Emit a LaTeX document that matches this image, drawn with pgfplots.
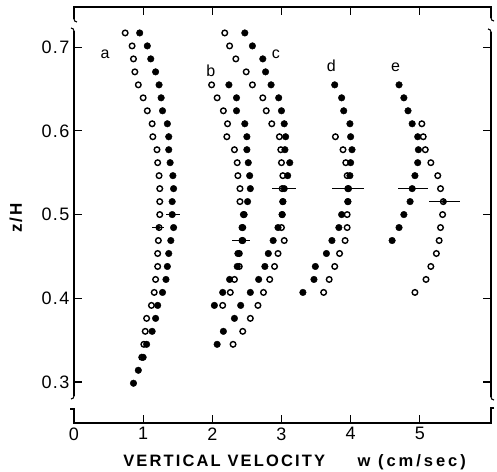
\documentclass[border=0pt]{standalone}
\usepackage{pgfplots}
\pgfplotsset{compat=1.18}
\usepackage{pgfplotstable}
\usepackage{fontspec}
\setmainfont{Liberation Sans}
\newfontfamily\labfont[LetterSpace=13]{Liberation Sans}
\newfontfamily\wfont[LetterSpace=18]{Liberation Sans}
\newfontfamily\tickfont[LetterSpace=8]{Liberation Sans}

% y levels: k1..k28 = 0.717 - 0.0155(k-1)
\pgfplotstableread{
x y
0.95 0.717
1.06 0.7015
1.11 0.686
1.18 0.6705
1.23 0.655
1.26 0.6395
1.28 0.624
1.35 0.6085
1.37 0.593
1.37 0.5775
1.39 0.562
1.43 0.5465
1.44 0.531
1.42 0.5155
1.42 0.500
1.44 0.4845
1.40 0.469
1.37 0.4535
1.35 0.438
1.33 0.4225
1.28 0.407
1.21 0.3915
1.18 0.376
1.13 0.3605
1.05 0.345
1.00 0.3295
0.93 0.314
0.86 0.2985
}\aFilled
\pgfplotstableread{
x y
0.74 0.717
0.84 0.7015
0.86 0.686
0.88 0.6705
0.93 0.655
1.00 0.6395
1.06 0.624
1.13 0.6085
1.14 0.593
1.20 0.5775
1.21 0.562
1.23 0.5465
1.24 0.531
1.24 0.5155
1.24 0.500
1.23 0.4845
1.22 0.469
1.21 0.4535
1.21 0.438
1.18 0.4225
1.16 0.407
1.12 0.3915
1.05 0.376
1.03 0.3605
1.01 0.345
0.98 0.3295
}\aOpen
\pgfplotstableread{
x y
2.24 0.655
2.35 0.6395
2.35 0.624
2.47 0.6085
2.50 0.593
2.50 0.5775
2.52 0.562
2.54 0.5465
2.55 0.531
2.51 0.5155
2.46 0.500
2.43 0.4845
2.43 0.469
2.37 0.4535
2.36 0.438
2.25 0.4225
2.15 0.407
2.03 0.3915
}\bFilled
\pgfplotstableread{
x y
1.99 0.655
2.07 0.6395
2.16 0.624
2.22 0.6085
2.21 0.593
2.32 0.5775
2.36 0.562
2.37 0.5465
2.40 0.531
2.40 0.5155
2.45 0.500
2.44 0.4845
2.44 0.469
2.39 0.4535
2.39 0.438
2.32 0.4225
2.26 0.407
2.15 0.3915
}\bOpen
\pgfplotstableread{
x y
2.47 0.717
2.58 0.7015
2.73 0.686
2.77 0.6705
2.85 0.655
2.96 0.6395
3.00 0.624
3.04 0.6085
3.06 0.593
3.05 0.5775
3.12 0.562
3.09 0.5465
3.04 0.531
3.02 0.5155
3.01 0.500
2.95 0.4845
2.88 0.469
2.81 0.4535
2.76 0.438
2.67 0.4225
2.55 0.407
2.41 0.3915
2.32 0.376
2.16 0.3605
2.07 0.345
}\cFilled
\pgfplotstableread{
x y
2.18 0.717
2.25 0.7015
2.34 0.686
2.49 0.6705
2.58 0.655
2.73 0.6395
2.78 0.624
2.86 0.6085
2.97 0.593
2.99 0.5775
3.00 0.562
3.02 0.5465
3.01 0.531
3.02 0.5155
3.01 0.500
3.00 0.4845
3.04 0.469
2.95 0.4535
2.90 0.438
2.83 0.4225
2.74 0.407
2.66 0.3915
2.55 0.376
2.44 0.3605
2.30 0.345
}\cOpen
\pgfplotstableread{
x y
3.77 0.655
3.87 0.6395
3.90 0.624
3.99 0.6085
4.00 0.593
4.02 0.5775
4.00 0.562
3.99 0.5465
3.96 0.531
3.96 0.5155
3.87 0.500
3.83 0.4845
3.73 0.469
3.65 0.4535
3.49 0.438
3.47 0.4225
3.31 0.407
}\dFilled
\pgfplotstableread{
x y
3.78 0.593
3.89 0.5775
3.93 0.562
3.95 0.5465
3.97 0.531
3.96 0.5155
3.95 0.500
3.95 0.4845
3.92 0.469
3.84 0.4535
3.77 0.438
3.69 0.4225
3.61 0.407
}\dOpen
\pgfplotstableread{
x y
4.70 0.655
4.77 0.6395
4.83 0.624
4.89 0.6085
4.97 0.593
4.98 0.5775
4.97 0.562
4.93 0.5465
4.89 0.531
4.86 0.5155
4.77 0.500
4.70 0.4845
4.60 0.469
}\eFilled
\pgfplotstableread{
x y
5.03 0.6085
5.05 0.593
5.08 0.5775
5.16 0.562
5.26 0.5465
5.30 0.531
5.34 0.5155
5.33 0.500
5.30 0.4845
5.28 0.469
5.24 0.4535
5.16 0.438
5.09 0.4225
4.93 0.407
}\eOpen
\pgfplotstableread{
x y e
1.435 0.500 0.10
1.215 0.4845 0.09
2.42 0.469 0.13
3.04 0.531 0.17
3.96 0.531 0.23
4.905 0.531 0.215
5.355 0.5155 0.225
}\errs

\begin{document}
\begin{tikzpicture}
\useasboundingbox (-74pt,-48pt) rectangle (423pt,423pt);
\begin{axis}[
  at={(0pt,0pt)}, anchor=south west,
  scale only axis, width=417pt, height=416pt,
  xmin=0, xmax=6.03, ymin=0.251, ymax=0.748,
  clip=false,
  axis line style={line width=1.1pt},
  xtick={0,1,2,3,4,5}, ytick={0.3,0.4,0.5,0.6,0.7},
  tick align=inside, major tick length=8pt,
  tick style={line width=1.1pt, black},
  xtick pos=both, ytick pos=both,
  xticklabel pos=lower, yticklabel pos=left,
  /pgf/number format/assume math mode=true,
  yticklabel style={/pgf/number format/fixed, /pgf/number format/precision=1, /pgf/number format/fixed zerofill, font=\tickfont\fontsize{18}{20}\selectfont, xshift=-1pt},
  xticklabel style={font=\tickfont\fontsize{18}{20}\selectfont, yshift=-1pt},
]
\addplot[only marks, mark=*, mark size=3.3pt, mark options={fill=black, draw=black}] table {\aFilled};
\addplot[only marks, mark=*, mark size=3.3pt, mark options={fill=black, draw=black}] table {\bFilled};
\addplot[only marks, mark=*, mark size=3.3pt, mark options={fill=black, draw=black}] table {\cFilled};
\addplot[only marks, mark=*, mark size=3.3pt, mark options={fill=black, draw=black}] table {\dFilled};
\addplot[only marks, mark=*, mark size=3.3pt, mark options={fill=black, draw=black}] table {\eFilled};
\addplot[only marks, mark=o, mark size=2.8pt, mark options={draw=black, line width=1.4pt}] table {\aOpen};
\addplot[only marks, mark=o, mark size=2.8pt, mark options={draw=black, line width=1.4pt}] table {\bOpen};
\addplot[only marks, mark=o, mark size=2.8pt, mark options={draw=black, line width=1.4pt}] table {\cOpen};
\addplot[only marks, mark=o, mark size=2.8pt, mark options={draw=black, line width=1.4pt}] table {\dOpen};
\addplot[only marks, mark=o, mark size=2.8pt, mark options={draw=black, line width=1.4pt}] table {\eOpen};
\addplot[black, only marks, mark=none, error bars/.cd, x dir=both, x explicit, error mark=none, error bar style={line width=1.3pt, black}] table[x=x, y=y, x error=e] {\errs};
\node[anchor=base, font=\fontsize{16}{18}\selectfont] at (axis cs:0.45,0.6865) {a};
\node[anchor=base, font=\fontsize{16}{18}\selectfont] at (axis cs:1.98,0.665) {b};
\node[anchor=base, font=\fontsize{16}{18}\selectfont] at (axis cs:2.92,0.6865) {c};
\node[anchor=base, font=\fontsize{16}{18}\selectfont] at (axis cs:3.72,0.6705) {d};
\node[anchor=base, font=\fontsize{16}{18}\selectfont] at (axis cs:4.65,0.6705) {e};
\node[anchor=base west, inner sep=0pt, font=\labfont\bfseries\fontsize{16.5}{18}\selectfont] at (axis cs:0.71,0.199) {VERTICAL VELOCITY};
\node[anchor=base west, inner sep=0pt, font=\wfont\bfseries\fontsize{16.5}{18}\selectfont] at (axis cs:4.10,0.199) {w (cm/sec)};
\node[rotate=90, anchor=center, inner sep=0pt, font=\labfont\bfseries\fontsize{17}{19}\selectfont] at (axis cs:-0.84,0.496) {z/H};
\end{axis}
% axis breaks
\fill[white] (-3pt,392pt) rectangle (3pt,404pt);
\draw[line width=1.1pt] (0pt,407pt) -- (0pt,404pt) to[out=-90,in=180] (3pt,401pt);
\draw[line width=1.1pt] (-3pt,395pt) to[out=0,in=90] (0pt,392pt) -- (0pt,389pt);
\fill[white] (-3pt,14pt) rectangle (3pt,27pt);
\draw[line width=1.1pt] (0pt,30pt) -- (0pt,27pt) to[out=-90,in=0] (-3pt,24pt);
\draw[line width=1.1pt] (-4pt,14pt) -- (0pt,14pt) -- (0pt,11pt);
\fill[white] (414pt,391pt) rectangle (420pt,405pt);
\draw[line width=1.1pt] (417pt,408pt) -- (417pt,405pt) to[out=-90,in=180] (420pt,402pt);
\draw[line width=1.1pt] (414pt,394pt) to[out=0,in=90] (417pt,391pt) -- (417pt,388pt);
\fill[white] (414pt,15pt) rectangle (420pt,26pt);
\draw[line width=1.1pt] (417pt,29pt) -- (417pt,26pt) to[out=-90,in=180] (420pt,23pt);
\draw[line width=1.1pt] (420pt,15pt) -- (417pt,15pt) -- (417pt,12pt);
\end{tikzpicture}
\end{document}
